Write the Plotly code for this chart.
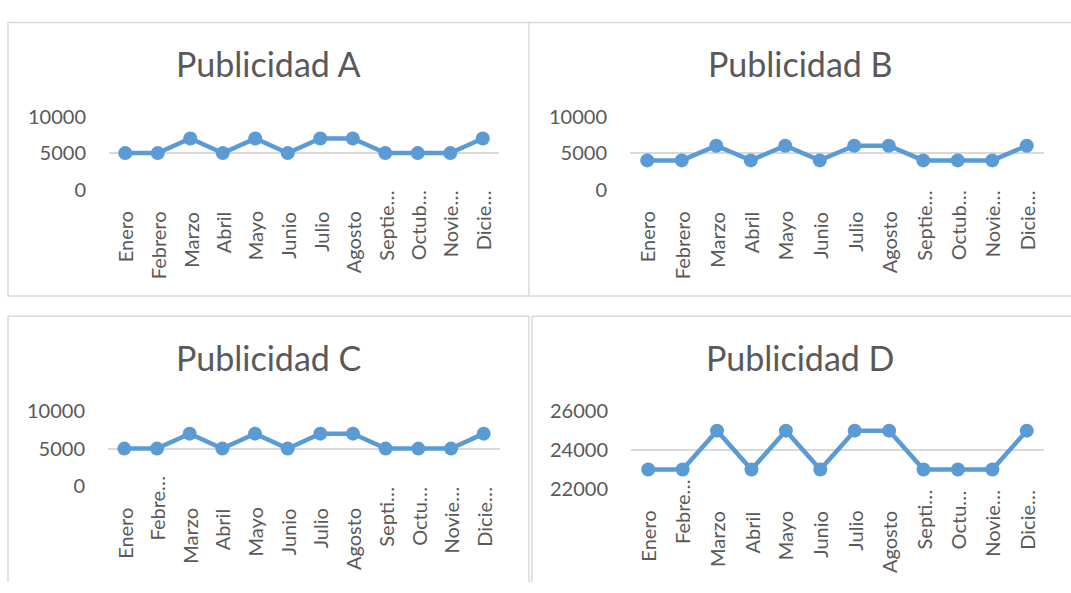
import plotly.graph_objects as go

months = ["Enero", "Febrero", "Marzo", "Abril", "Mayo", "Junio", "Julio",
          "Agosto", "Septiembre", "Octubre", "Noviembre", "Diciembre"]
labels_ab = ["Enero", "Febrero", "Marzo", "Abril", "Mayo", "Junio", "Julio",
             "Agosto", "Septie…", "Octub…", "Novie…", "Dicie…"]
labels_cd = ["Enero", "Febre…", "Marzo", "Abril", "Mayo", "Junio", "Julio",
             "Agosto", "Septi…", "Octu…", "Novie…", "Dicie…"]

pub_a = [5000, 5000, 7000, 5000, 7000, 5000, 7000, 7000, 5000, 5000, 5000, 7000]
pub_b = [4000, 4000, 6000, 4000, 6000, 4000, 6000, 6000, 4000, 4000, 4000, 6000]
pub_c = [5000, 5000, 7000, 5000, 7000, 5000, 7000, 7000, 5000, 5000, 5000, 7000]
pub_d = [23000, 23000, 25000, 23000, 25000, 23000, 25000, 25000, 23000, 23000, 23000, 25000]

titles = ["Publicidad A", "Publicidad B", "Publicidad C", "Publicidad D"]
ticks_ad = [0, 5000, 10000]
ticks_d = [22000, 24000, 26000]

W, H = 1071, 593
FONT = "Lato"
TXT = "#595959"
GRID = "#D9D9D9"
BLUE = "#5B9BD5"

def px(x):
    return x / W

def py(y):
    return 1 - y / H

panels = [
    (pub_a, labels_ab, ticks_ad, [0, 10000], 109, 499, 184, 108, 268, 53),
    (pub_b, labels_ab, ticks_ad, [0, 10000], 630, 1044, 184, 108, 800, 53),
    (pub_c, labels_cd, ticks_ad, [0, 10000], 108, 500, 493, 415, 268, 359),
    (pub_d, labels_cd, ticks_d, [22000, 26000], 631, 1044, 496, 415, 800, 359),
]

fig = go.Figure()
annotations = []
for i, (vals, labs, tks, rng, x0, x1, yb, yt, tx, ty) in enumerate(panels):
    n = "" if i == 0 else str(i + 1)
    fig.add_trace(go.Scatter(
        x=months, y=vals, mode="lines+markers",
        line=dict(color=BLUE, width=4.5),
        marker=dict(color=BLUE, size=14),
        xaxis="x" + n, yaxis="y" + n, showlegend=False, hoverinfo="skip"))
    fig.layout["xaxis" + n] = dict(
        domain=[px(x0), px(x1)], anchor="y" + n, type="category",
        range=[-0.5, 11.5], showgrid=False, zeroline=False, showline=False,
        showticklabels=False, ticks="", fixedrange=True)
    fig.layout["yaxis" + n] = dict(
        domain=[py(yb), py(yt)], anchor="x" + n, range=rng,
        tickvals=tks, ticktext=[str(t) for t in tks],
        showgrid=True, gridcolor=GRID, gridwidth=1.5, zeroline=False,
        showline=False, ticks="", ticklabelstandoff=22,
        tickfont=dict(family=FONT, size=20, color=TXT), fixedrange=True)
    for j, (m, lab) in enumerate(zip(months, labs)):
        if lab.endswith("…"):
            shift = 12 if (j == 1) else 1
        else:
            shift = -20
        annotations.append(dict(
            x=m, y=rng[0], xref="x" + n, yref="y" + n, text=lab,
            textangle=-90, showarrow=False, xanchor="center", yanchor="top",
            yshift=shift, font=dict(family=FONT, size=20, color=TXT)))
    annotations.append(dict(
        x=px(tx), y=py(ty), xref="paper", yref="paper", text=titles[i],
        showarrow=False, xanchor="center", yanchor="middle",
        font=dict(family=FONT, size=34, color=TXT)))

line = dict(color=GRID, width=1.5)
shapes = [
    dict(type="rect", xref="paper", yref="paper", x0=px(8), x1=px(529), y0=py(295), y1=py(10), line=line),
    dict(type="line", xref="paper", yref="paper", x0=px(529), x1=px(1071), y0=py(10), y1=py(10), line=line),
    dict(type="line", xref="paper", yref="paper", x0=px(529), x1=px(1071), y0=py(295), y1=py(295), line=line),
    dict(type="line", xref="paper", yref="paper", x0=px(8), x1=px(529), y0=py(316), y1=py(316), line=line),
    dict(type="line", xref="paper", yref="paper", x0=px(8), x1=px(8), y0=py(316), y1=py(593), line=line),
    dict(type="line", xref="paper", yref="paper", x0=px(529), x1=px(529), y0=py(316), y1=py(593), line=line),
    dict(type="line", xref="paper", yref="paper", x0=px(532), x1=px(1071), y0=py(316), y1=py(316), line=line),
    dict(type="line", xref="paper", yref="paper", x0=px(532), x1=px(532), y0=py(316), y1=py(593), line=line),
]

fig.update_layout(
    width=W, height=H, margin=dict(l=0, r=0, t=0, b=0),
    paper_bgcolor="white", plot_bgcolor="white",
    annotations=annotations, shapes=shapes,
    font=dict(family=FONT, color=TXT))

fig.write_html("out.html", config={"displayModeBar": False},
               post_script="document.body.style.margin='0';document.body.style.overflow='hidden';")
